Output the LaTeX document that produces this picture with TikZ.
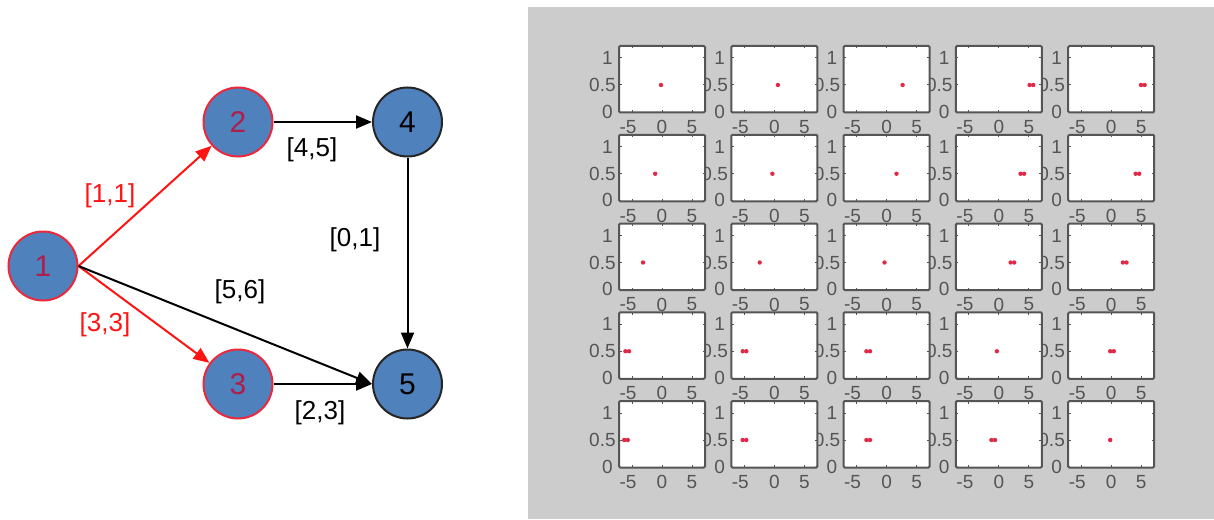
\documentclass[tikz,border=0pt]{standalone}
\usepackage{fontspec}
\setmainfont{Liberation Sans}
\usetikzlibrary{arrows.meta}
\definecolor{panelgray}{RGB}{204,204,204}
\definecolor{nodeblue}{RGB}{79,129,189}
\definecolor{nodered}{RGB}{235,40,60}
\definecolor{numred}{RGB}{175,30,75}
\definecolor{edgered}{RGB}{255,20,20}
\definecolor{axisgray}{RGB}{85,85,85}
\definecolor{dotred}{RGB}{225,40,70}
\begin{document}
\begin{tikzpicture}[x=0.5pt,y=-0.5pt,
  vertex/.style={circle, draw=black!85, fill=nodeblue, line width=1pt, minimum size=34.5pt, inner sep=0pt, font=\fontsize{15}{17}\selectfont},
  hot/.style={draw=nodered, text=numred},
  arc/.style={line width=1pt, -{Triangle[length=8pt,width=6.5pt]}},
  redarc/.style={arc, draw=edgered},
  blackarc/.style={arc, draw=black},
  elabel/.style={font=\fontsize{13}{15}\selectfont, inner sep=0pt},
  ticklab/.style={font=\fontsize{9.5}{10}\selectfont, text=axisgray, inner sep=0pt},
  axframe/.style={draw=axisgray, fill=white, line width=1pt, rounded corners=0.6pt},
  axtick/.style={draw=axisgray, line width=0.5pt},
  pt/.style={fill=dotred},
]
\useasboundingbox (0,0) rectangle (1214,519);
\fill[white] (0,0) rectangle (1214,519);
\fill[panelgray] (528,7) rectangle (1214,519);

% graph
\node[vertex,hot] (n1) at (43,266) {1};
\node[vertex,hot] (n2) at (238,122) {2};
\node[vertex,hot] (n3) at (238,384) {3};
\node[vertex] (n4) at (407.5,122) {4};
\node[vertex] (n5) at (407.5,384) {5};

\draw[redarc] (n1.east) -- (n2);
\draw[redarc] (n1.east) -- (n3);
\draw[blackarc] (n1.east) -- (n5.west);
\draw[blackarc] (n2) -- (n4);
\draw[blackarc] (n3) -- (n5);
\draw[blackarc] (n4) -- (n5);

\node[elabel,text=edgered] (l12) at (110,196) {[1,1]};
\node[elabel,text=edgered] (l13) at (105,325) {[3,3]};
\node[elabel] (l15) at (240,292) {[5,6]};
\node[elabel] (l24) at (312,150) {[4,5]};
\node[elabel] (l45) at (355,240) {[0,1]};
\node[elabel] (l35) at (320,413) {[2,3]};

% subplot grid: tick labels
\foreach \r in {0,...,4}{
  \foreach \c in {0,...,4}{
    \pgfmathsetmacro{\L}{619+112.3*\c}
    \pgfmathsetmacro{\T}{46+88.75*\r}
    \node[ticklab,anchor=east] (ya-\r-\c) at (\L-6,\T+12) {1};
    \node[ticklab,anchor=east] (yb-\r-\c) at (\L-3,\T+39) {0.5};
    \node[ticklab,anchor=east] (yc-\r-\c) at (\L-6,\T+65.5) {0};
    \node[ticklab] (xa-\r-\c) at (\L+9,\T+81) {-5};
    \node[ticklab] (xb-\r-\c) at (\L+43,\T+81) {0};
    \node[ticklab] (xc-\r-\c) at (\L+73,\T+81) {5};
  }
}
% subplot grid: frames
\foreach \r in {0,...,4}{
  \foreach \c in {0,...,4}{
    \pgfmathsetmacro{\L}{619+112.3*\c}
    \pgfmathsetmacro{\T}{46+88.75*\r}
    \draw[axframe] (\L,\T) rectangle ++(86,66.5);
    \foreach \tx in {-30,0,30}{
      \draw[axtick] (\L+43+\tx,\T+66.5) -- ++(0,-2.5);
      \draw[axtick] (\L+43+\tx,\T) -- ++(0,2.5);
    }
    \foreach \ty in {12,39}{
      \draw[axtick] (\L,\T+\ty) -- ++(2.5,0);
      \draw[axtick] (\L+86,\T+\ty) -- ++(-2.5,0);
    }
  }
}
% subplot grid: data points
\foreach \r/\c/\dx/\k in {
  0/0/-1/1, 0/1/3.6/1, 0/2/16/1, 0/3/32.5/2, 0/4/31.6/2,
  1/0/-6.8/1, 1/1/-1.9/1, 1/2/9.9/1, 1/3/23.4/2, 1/4/26.2/2,
  2/0/-19/1, 2/1/-14.6/1, 2/2/-2.1/1, 2/3/13.5/2, 2/4/13.5/2,
  3/0/-34.8/2, 3/1/-29.8/2, 3/2/-18.4/2, 3/3/-2/1, 3/4/0.8/2,
  4/0/-36/2, 4/1/-29.8/2, 4/2/-18.4/2, 4/3/-5.7/2, 4/4/-1/1}{
    \pgfmathsetmacro{\X}{619+112.3*\c+43+\dx}
    \pgfmathsetmacro{\Y}{46+88.75*\r+39}
    \ifnum\k=1
      \fill[pt] (\X,\Y) circle[radius=1.1pt];
    \else
      \fill[pt] (\X-1.8,\Y) circle[radius=1.1pt];
      \fill[pt] (\X+1.8,\Y) circle[radius=1.1pt];
    \fi
}
\end{tikzpicture}
\end{document}
